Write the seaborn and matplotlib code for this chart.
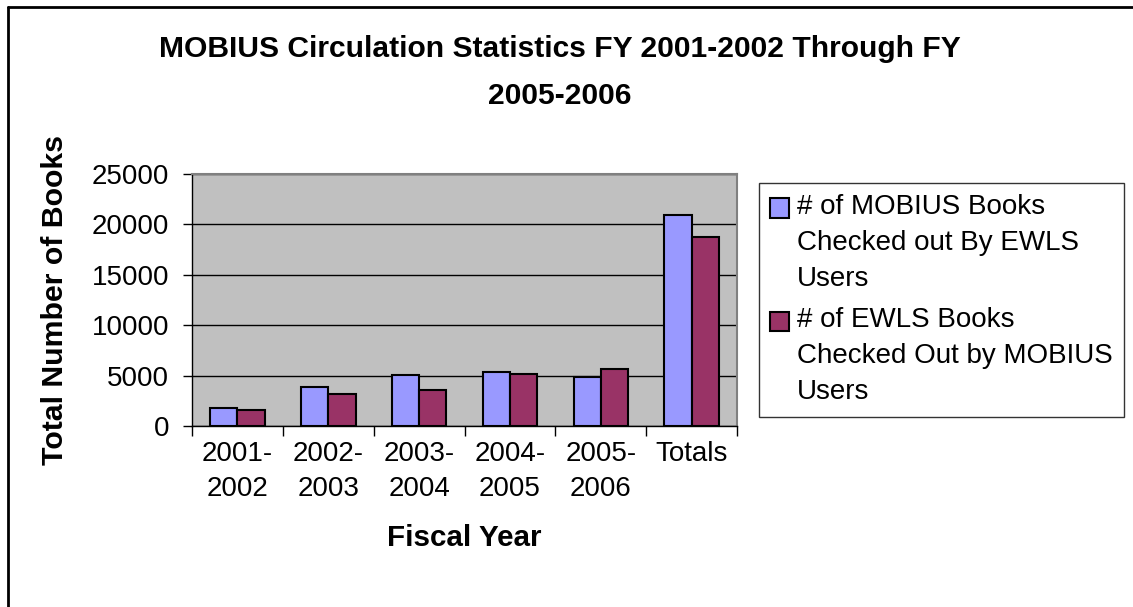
import numpy as np
import pandas as pd
import matplotlib
matplotlib.use('Agg')
import matplotlib.pyplot as plt
import seaborn as sns
from matplotlib.lines import Line2D
from matplotlib.patches import Rectangle
from matplotlib.legend_handler import HandlerPatch

# chart data
years = ['2001-\n2002', '2002-\n2003', '2003-\n2004', '2004-\n2005', '2005-\n2006', 'Totals']
mobius_out = [1780, 3890, 5080, 5310, 4880, 20910]
ewls_out = [1580, 3130, 3560, 5110, 5670, 18770]
series_names = ['# of MOBIUS Books\nChecked out By EWLS\nUsers',
                '# of EWLS Books\nChecked Out by MOBIUS\nUsers']
colors = ['#9999FF', '#993366']
y_ticks = [0, 5000, 10000, 15000, 20000, 25000]

df = pd.DataFrame({
    'Fiscal Year': years * 2,
    'Books': mobius_out + ewls_out,
    'Series': [series_names[0]] * len(years) + [series_names[1]] * len(years),
})

sns.set_style('white')
plt.rcParams['font.family'] = ['Liberation Sans', 'DejaVu Sans']
plt.rcParams['text.color'] = 'black'
plt.rcParams['axes.labelcolor'] = 'black'
plt.rcParams['xtick.color'] = 'black'
plt.rcParams['ytick.color'] = 'black'

W, H = 1133, 607
fig = plt.figure(figsize=(W / 100, H / 100), dpi=100)
ax = fig.add_axes([192 / W, 1 - 426 / H, (737 - 192) / W, (426 - 174) / H])
ax.set_facecolor('#C0C0C0')

sns.barplot(data=df, x='Fiscal Year', y='Books', hue='Series', palette=colors,
            width=0.6, gap=0, saturation=1, edgecolor='black', linewidth=1.5,
            ax=ax, zorder=3)

ax.set_xlim(-0.5, len(years) - 0.5)
ax.set_ylim(0, 25000)
ax.set_yticks(y_ticks)
ax.set_yticklabels([str(v) for v in y_ticks])
ax.yaxis.grid(True, color='black', linewidth=1)
ax.set_axisbelow(True)

# ticks: y outward, x only at category boundaries
ax.tick_params(axis='y', direction='out', length=6.5, width=1, color='black',
               labelsize=20, pad=10, left=True)
ax.tick_params(axis='x', which='major', length=0, labelsize=20, pad=10.5)
ax.set_xticks(np.arange(-0.5, len(years)), minor=True)
ax.tick_params(axis='x', which='minor', direction='out', length=7, width=1,
               color='black', bottom=True)
for t in ax.get_xticklabels():
    t.set_linespacing(1.45)

for s in ['left', 'bottom']:
    ax.spines[s].set_color('black')
    ax.spines[s].set_linewidth(1)
for s in ['top', 'right']:
    ax.spines[s].set_color('#808080')
    ax.spines[s].set_linewidth(1.5)

ax.set_xlabel('Fiscal Year', fontsize=21.3, fontweight='bold')
ax.set_ylabel('Total Number of Books', fontsize=21.8, fontweight='bold')
ax.xaxis.set_label_coords(0.5, -0.39)
ax.yaxis.set_label_coords(-0.225, 0.5)

fig.text(560 / W, 1 - 35 / H,
         'MOBIUS Circulation Statistics FY 2001-2002 Through FY\n2005-2006',
         ha='center', va='top', fontsize=21.6, fontweight='bold', linespacing=1.85)


# legend handle sits beside the first line of each label
def top_square(legend, orig_handle, xdescent, ydescent, width, height, fontsize):
    return Rectangle((-xdescent, -ydescent + 25.5), width, height)


handles, labels = ax.get_legend_handles_labels()
leg = ax.legend(handles, labels, loc='upper left',
                bbox_to_anchor=(759 / W, 1 - 183 / H), bbox_transform=fig.transFigure,
                fontsize=20, frameon=True, fancybox=False, borderaxespad=0,
                borderpad=0.4, handlelength=0.68, handleheight=0.68,
                handletextpad=0.3, labelspacing=0.55,
                handler_map={Rectangle: HandlerPatch(patch_func=top_square)})
leg.get_frame().set_edgecolor('black')
leg.get_frame().set_linewidth(1)
for t in leg.get_texts():
    t.set_linespacing(1.5)

# chart border (left and top edges visible)
fig.add_artist(Line2D([8 / W, 8 / W], [0, 1 - 7 / H], transform=fig.transFigure,
                      color='black', linewidth=2))
fig.add_artist(Line2D([8 / W, 1], [1 - 7 / H, 1 - 7 / H], transform=fig.transFigure,
                      color='black', linewidth=2))

fig.savefig('out.png', dpi=100)
